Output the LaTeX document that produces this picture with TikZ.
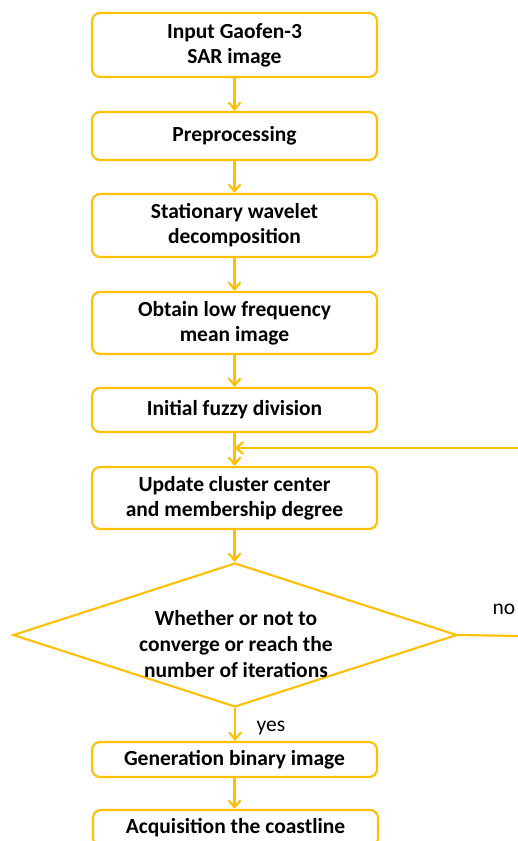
\documentclass[tikz,border=0pt]{standalone}
\usepackage{fontspec}
\setmainfont{Carlito}
\usetikzlibrary{shapes.geometric,arrows.meta}
\definecolor{gold}{HTML}{FFC000}
\begin{document}
\begin{tikzpicture}[x=1pt,y=1pt,
  box/.style={draw=gold, line width=2.1pt, rounded corners=8pt, fill=white,
    minimum width=285pt, align=center, inner sep=0pt,
    font=\fontsize{21.5}{25}\selectfont\bfseries},
  dia/.style={draw=gold, line width=2.1pt, shape=diamond, inner sep=0pt,
    minimum width=444pt, minimum height=144pt},
  dtext/.style={align=center, inner sep=0pt, font=\fontsize{21.5}{26}\selectfont\bfseries},
  lbl/.style={inner sep=0pt, font=\fontsize{21.5}{23}\selectfont},
  arr/.style={draw=gold, line width=2.1pt, -{Straight Barb[length=7pt,width=12pt]}},
  ln/.style={draw=gold, line width=2.1pt}]
\useasboundingbox (0,0) rectangle (518,-841);
\clip (0,0) rectangle (518,-841);
\fill[white] (0,0) rectangle (518,-841);

\node[box, minimum height=64pt] (b1) at (234.5,-45) {Input Gaofen-3\\SAR image};
\node[box, minimum height=48pt] (b2) at (234.5,-136) {Preprocessing};
\node[box, minimum height=63pt] (b3) at (234.5,-225.5) {Stationary wavelet\\decomposition};
\node[box, minimum height=62pt] (b4) at (234.5,-323) {Obtain low frequency\\mean image};
\node[box, minimum height=44pt] (b5) at (234.5,-410) {Initial fuzzy division};
\node[box, minimum height=62pt] (b6) at (234.5,-498) {Update cluster center\\and membership degree};
\node[dia] (d) at (235,-635) {};
\node[dtext] (dt) at (236,-644) {Whether or not to\\converge or reach the\\number of iterations};
\node[box, minimum height=35pt] (b7) at (234.5,-759.5) {Generation binary image};
\node[box, minimum height=36pt] (b8) at (235.5,-828) {Acquisition the coastline};

\node[lbl] (yes) at (271,-728) {yes};
\node[lbl] (no) at (504,-609) {no};

\coordinate (loopR) at (520,-448);
\coordinate (noR) at (520,-636);

\draw[arr] (b1.south) -- (b2.north);
\draw[arr] (b2.south) -- (b3.north);
\draw[arr] (b3.south) -- (b4.north);
\draw[arr] (b4.south) -- (b5.north);
\draw[arr] (b5.south) -- (b6.north);
\draw[arr] (loopR) -- (loopR -| b5.south);
\draw[arr] (b6.south) -- (b6.south |- d.north);
\draw[arr] (d.south) -- (d.south |- b7.north);
\draw[arr] (b7.south) -- (b7.south |- b8.north);
\draw[ln] (d.east) -- (noR);
\end{tikzpicture}
\end{document}
